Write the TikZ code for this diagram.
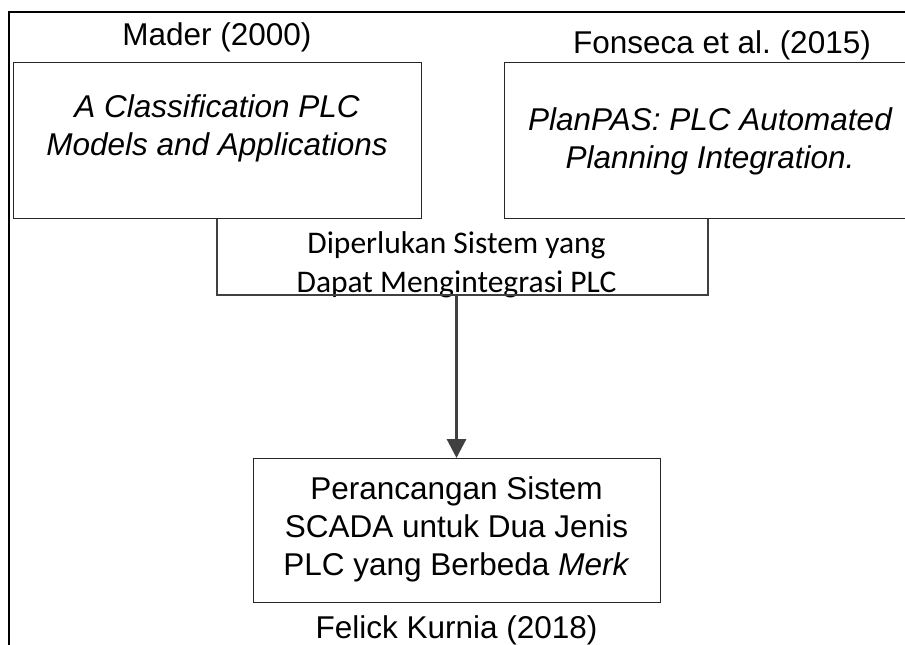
\documentclass[tikz,border=0pt]{standalone}
\usepackage{fontspec}
\setmainfont{Liberation Sans}
\newfontfamily\calibrifont{Carlito}
\usepackage{tikz}
\usetikzlibrary{arrows.meta}
\usetikzlibrary{positioning}
\frenchspacing
\newlength{\refunit}
\setlength{\refunit}{1pt}
\tikzstyle{refbox}=[draw=black!85, line width=1\refunit, rectangle, inner sep=0pt, minimum width=408\refunit, minimum height=156\refunit]
\tikzstyle{reftext}=[font=\fontsize{31.5}{38}\selectfont, align=center, anchor=base, inner sep=0pt]
\tikzstyle{refitalic}=[reftext, font=\fontsize{31.5}{38}\selectfont\itshape]
\tikzstyle{needtext}=[font=\calibrifont\fontsize{31.5}{39}\selectfont, align=center, anchor=base, inner sep=0pt]
\tikzstyle{linkstyle}=[draw, color=black!75, line width=2\refunit]
\tikzstyle{edgestyle}=[draw, color=black!75, line width=3\refunit, ->, >={Triangle[length=19pt,width=19pt]}]
\tikzstyle{framestyle}=[draw, black, line width=2\refunit]

\begin{document}
\begin{tikzpicture}[x=1pt, y=-1pt]
\useasboundingbox (0,0) rectangle (905,645);
\draw [framestyle] (9,650) |- (910,12);

\node [refbox] (madbox) at (217,140) {};
\node [refbox] (fonbox) at (708,140) {};
\node [reftext] (madtitle) at (217,45) {Mader (2000)};
\node [reftext] (fontitle) at (722,53) {Fonseca et al. (2015)};
% base anchor sits on the last line
\node [refitalic] (madtext) at (217,155) {A Classification PLC\\Models and Applications};
\node [refitalic] (fontext) at (710,168) {PlanPAS: PLC Automated\\Planning Integration.};

\coordinate (join) at (456.5,295);
\node [needtext] (need) at (456.5,292) {Diperlukan Sistem yang\\Dapat Mengintegrasi PLC};
\node [refbox, minimum width=407\refunit, minimum height=144\refunit, below=163\refunit of join] (result) {};
\node [reftext] (resulttext) at (456.5,575) {Perancangan Sistem\\SCADA untuk Dua Jenis\\PLC yang Berbeda \textit{Merk}};
\node [reftext] (resulttitle) at (456.5,638) {Felick Kurnia (2018)};

\draw [linkstyle] (madbox.south) |- (join) -| (fonbox.south);
\draw [edgestyle] (join) -- (result.north);
\end{tikzpicture}
\end{document}
